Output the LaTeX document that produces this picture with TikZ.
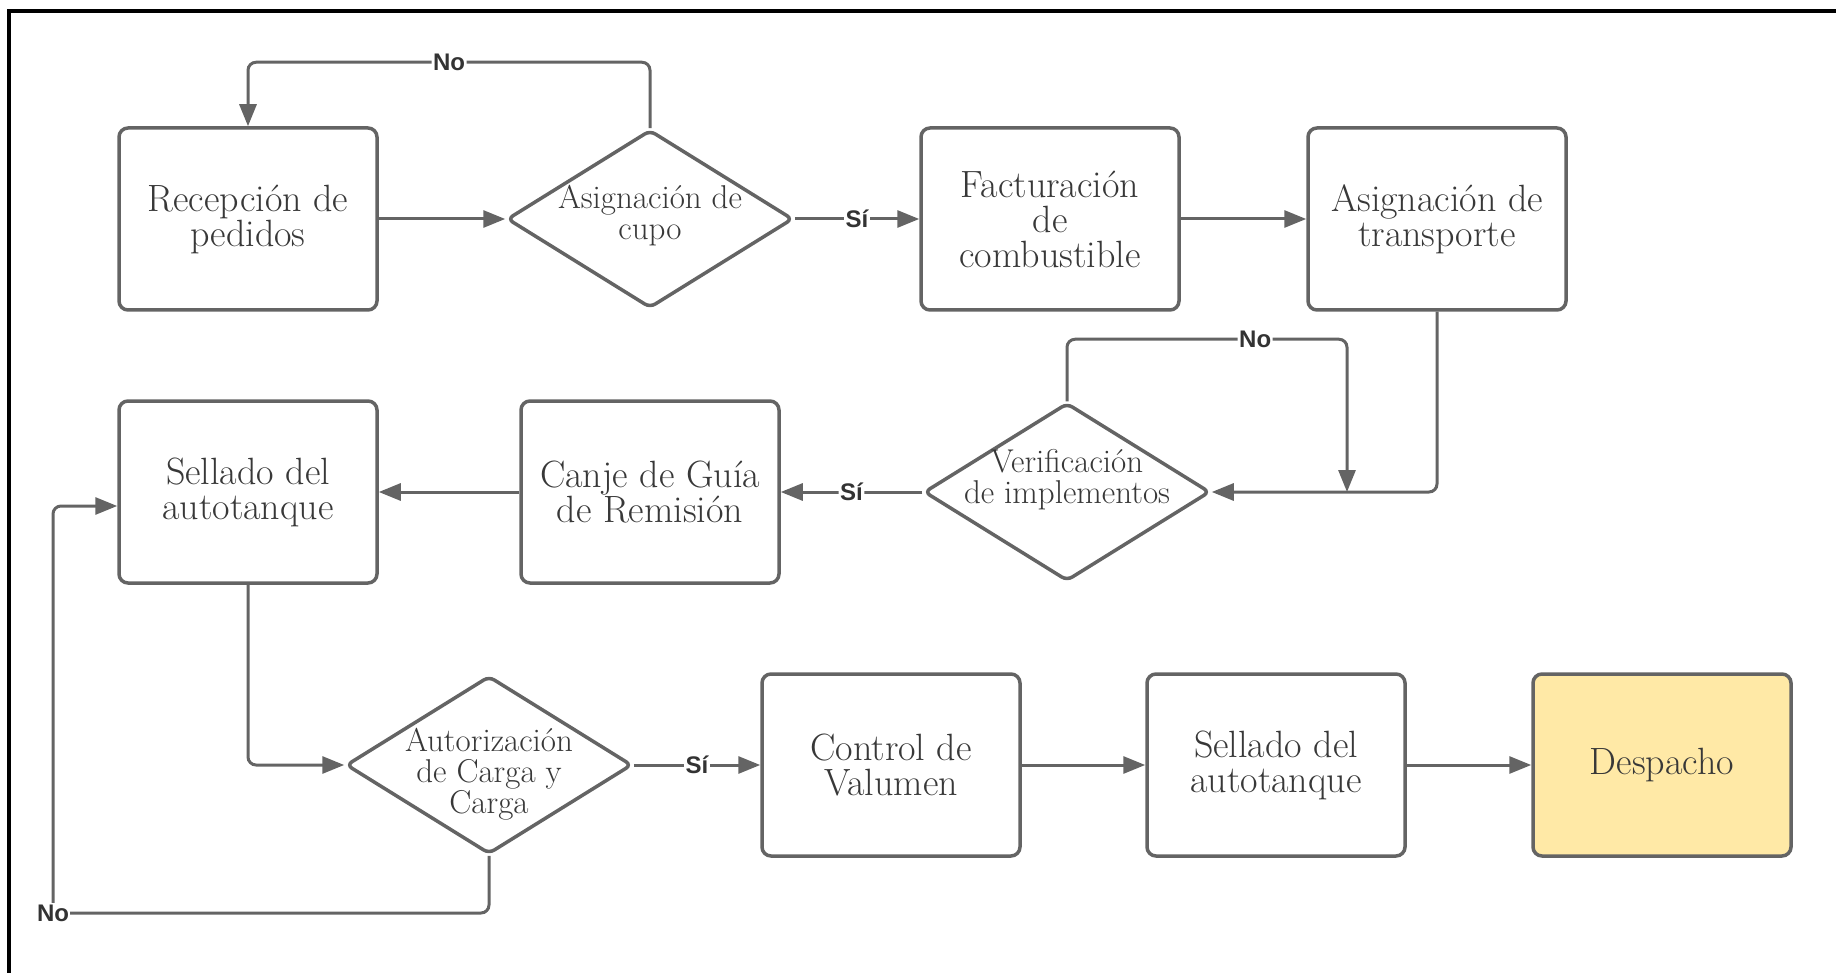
\documentclass[tikz,border=0pt]{standalone}
\usepackage{fontspec}
\newfontfamily\labfont{Liberation Sans}
\usetikzlibrary{shapes.geometric,arrows.meta,calc}
\definecolor{edge}{HTML}{646464}
\definecolor{ink}{HTML}{383838}
\definecolor{goal}{HTML}{FFE9A6}
\begin{document}
\begin{tikzpicture}[x=1pt,y=-1pt,
  stepbox/.style={draw=edge, line width=3.5pt, rounded corners=9pt, fill=white,
    minimum width=258pt, minimum height=182pt, align=center, text=ink,
    font=\fontsize{38}{35}\selectfont},
  decision/.style={draw=edge, line width=3.5pt, rounded corners=6pt, shape=diamond,
    fill=white, minimum width=286pt, minimum height=178pt, inner sep=0pt},
  dtext/.style={align=center, text=ink, font=\fontsize{33}{31}\selectfont},
  conn/.style={draw=edge, line width=3pt, rounded corners=8pt,
    -{Triangle[length=22pt,width=17pt]}},
  lab/.style={fill=white, inner sep=1.5pt, text=black!80,
    font=\labfont\bfseries\fontsize{24}{24}\selectfont}]
\useasboundingbox (0,0) rectangle (1836,973);
% outer frame
\draw[line width=4pt] (9,973) |- (1836,11);

% first row
\node[stepbox] (b1) at (248,219) {Recepción de\\pedidos};
\node[decision] (d1) at (650,219) {};
\node[dtext] at (650,216) {Asignación de\\cupo};
\node[stepbox] (b2) at (1050,219) {Facturación\\de\\combustible};
\node[stepbox] (b3) at (1437,219) {Asignación de\\transporte};

% second row
\node[stepbox] (b5) at (248,492) {Sellado del\\autotanque};
\node[stepbox] (b4) at (650,492) {Canje de Guía\\de Remisión};
\node[decision] (d2) at (1067,492) {};
\node[dtext] at (1067,480) {Verificación\\de implementos};

% third row
\node[decision] (d3) at (489,765) {};
\node[dtext] at (489,774) {Autorización\\de Carga y\\Carga};
\node[stepbox] (b6) at (891,765) {Control de\\Valumen};
\node[stepbox] (b7) at (1276,765) {Sellado del\\autotanque};
\node[stepbox, fill=goal] (b8) at (1662,765) {Despacho};

% helper points for the return loops
\coordinate (m) at (1347,492);
\coordinate (nl) at (53,913);

% connectors
\draw[conn] (b1) -- (d1);
\draw[conn] (d1.north) -- ++(0,-66) -| node[lab, pos=0.25] {No} (b1.north);
\draw[conn] (d1) -- node[lab] {Sí} (b2);
\draw[conn] (b2) -- (b3);
\draw[conn] (b3.south) |- (d2.east);
\draw[conn] (d2.north) -- ++(0,-62) -| node[lab, pos=0.336] {No} (m);
\draw[conn] (d2) -- node[lab] {Sí} (b4);
\draw[conn] (b4) -- (b5);
\draw[conn] (b5.south) |- (d3.west);
\draw[conn] (d3) -- node[lab] {Sí} (b6);
\draw[conn] (b6) -- (b7);
\draw[conn] (b7) -- (b8);
\draw[conn] (d3.south) |- (nl) |- ($(b5.west)+(0,14)$);
\node[lab] at (nl) {No};
\end{tikzpicture}
\end{document}
